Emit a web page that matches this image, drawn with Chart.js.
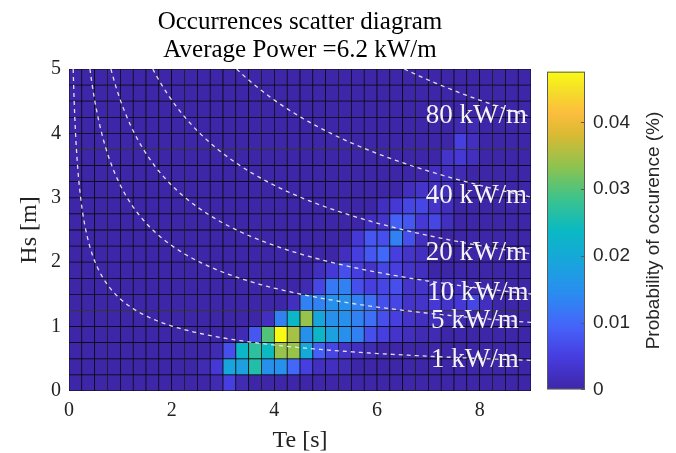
<!DOCTYPE html>
<html>
<head>
<meta charset="utf-8">
<script src="https://cdn.jsdelivr.net/npm/chart.js@4.4.1/dist/chart.umd.min.js"></script>
<style>
  html, body { margin: 0; padding: 0; background: #fff; }
  #wrap { width: 676px; height: 453px; }
</style>
</head>
<body>
<div id="wrap"><canvas id="scatterChart" width="676" height="453"></canvas></div>
<script>
// Te bins (centres, s) and Hs bins (lower edges, m)
const teBins = [0.125, 0.375, 0.625, 0.875, 1.125, 1.375, 1.625, 1.875, 2.125, 2.375, 2.625, 2.875,
                3.125, 3.375, 3.625, 3.875, 4.125, 4.375, 4.625, 4.875, 5.125, 5.375, 5.625, 5.875,
                6.125, 6.375, 6.625, 6.875, 7.125, 7.375, 7.625, 7.875, 8.125, 8.375, 8.625, 8.875];
const hsBins = [0, 0.25, 0.5, 0.75, 1, 1.25, 1.5, 1.75, 2, 2.25, 2.5, 2.75, 3, 3.25, 3.5, 3.75, 4, 4.25, 4.5, 4.75];
const hsStep = 0.25;

const teTicks = [0, 2, 4, 6, 8];
const hsTicks = [0, 1, 2, 3, 4, 5];
const probTicks = [0, 0.01, 0.02, 0.03, 0.04];
const probMax = 0.0476;

// probability of occurrence (%), one row per Hs bin, bottom row first
const prob = [
  [0,0,0,0,0,0, 0,0,0,0,0,0.001, 0.005,0.001,0,0,0,0, 0,0,0,0,0,0, 0,0,0,0,0,0, 0,0,0,0,0,0],
  [0,0,0,0,0,0, 0,0,0,0,0.001,0.004, 0.019,0.018,0.026,0.015,0.015,0.010, 0.005,0.002,0.002,0.001,0,0, 0,0,0,0,0,0, 0,0,0,0,0,0],
  [0,0,0,0,0,0, 0,0,0,0,0,0.001, 0.007,0.023,0.027,0.024,0.034,0.034, 0.020,0.009,0.006,0.003,0.002,0.001, 0,0,0,0,0,0, 0,0,0,0,0,0],
  [0,0,0,0,0,0, 0,0,0,0,0,0, 0,0.001,0.008,0.030,0.0476,0.035, 0.015,0.023,0.018,0.015,0.013,0.007, 0.005,0.003,0.002,0.001,0.001,0, 0,0,0,0,0,0],
  [0,0,0,0,0,0, 0,0,0,0,0,0, 0,0,0,0.002,0.013,0.023, 0.034,0.019,0.015,0.015,0.013,0.011, 0.007,0.005,0.003,0.002,0.002,0.001, 0.001,0,0,0,0,0],
  [0,0,0,0,0,0, 0,0,0,0,0,0, 0,0,0,0,0,0.002, 0.013,0.013,0.015,0.015,0.013,0.011, 0.007,0.006,0.003,0.003,0.004,0.003, 0.004,0.006,0.002,0,0,0],
  [0,0,0,0,0,0, 0,0,0,0,0,0, 0,0,0,0,0,0, 0.001,0.006,0.012,0.013,0.007,0.005, 0.006,0.007,0.003,0.003,0.002,0.002, 0.002,0,0,0,0,0],
  [0,0,0,0,0,0, 0,0,0,0,0,0, 0,0,0,0,0,0, 0,0.002,0.004,0.007,0.005,0.003, 0.006,0.005,0.003,0.002,0,0, 0,0,0,0,0,0],
  [0,0,0,0,0,0, 0,0,0,0,0,0, 0,0,0,0,0,0, 0,0,0,0.002,0.005,0.008, 0.010,0.005,0.003,0.002,0,0, 0,0,0,0,0,0],
  [0,0,0,0,0,0, 0,0,0,0,0,0, 0,0,0,0,0,0, 0,0,0,0,0.004,0.008, 0.007,0.013,0.007,0.002,0,0, 0,0,0,0,0,0],
  [0,0,0,0,0,0, 0,0,0,0,0,0, 0,0,0,0,0,0, 0,0,0,0,0,0.002, 0.003,0.009,0.008,0.004,0.006,0.002, 0,0,0,0,0,0],
  [0,0,0,0,0,0, 0,0,0,0,0,0, 0,0,0,0,0,0, 0,0,0,0,0,0, 0.002,0.004,0.006,0.006,0.003,0.002, 0,0,0,0,0,0],
  [0,0,0,0,0,0, 0,0,0,0,0,0, 0,0,0,0,0,0, 0,0,0,0,0,0, 0,0,0.002,0.003,0.002,0.002, 0,0,0,0,0,0],
  [0,0,0,0,0,0, 0,0,0,0,0,0, 0,0,0,0,0,0, 0,0,0,0,0,0, 0,0,0,0,0.002,0.002, 0.001,0,0,0,0,0],
  [0,0,0,0,0,0, 0,0,0,0,0,0, 0,0,0,0,0,0, 0,0,0,0,0,0, 0,0,0,0,0,0.003, 0.004,0.002,0,0,0,0],
  [0,0,0,0,0,0, 0,0,0,0,0,0, 0,0,0,0,0,0, 0,0,0,0,0,0, 0,0,0,0,0,0, 0.005,0.002,0,0,0,0],
  [0,0,0,0,0,0, 0,0,0,0,0,0, 0,0,0,0,0,0, 0,0,0,0,0,0, 0,0,0,0,0,0, 0.001,0.001,0,0,0,0],
  [0,0,0,0,0,0, 0,0,0,0,0,0, 0,0,0,0,0,0, 0,0,0,0,0,0, 0,0,0,0,0,0, 0,0,0,0,0,0],
  [0,0,0,0,0,0, 0,0,0,0,0,0, 0,0,0,0,0,0, 0,0,0,0,0,0, 0,0,0,0,0,0, 0,0,0,0,0,0],
  [0,0,0,0,0,0, 0,0,0,0,0,0, 0,0,0,0,0,0, 0,0,0,0,0,0, 0,0,0,0,0,0, 0,0,0,0,0,0]
];

// iso-power lines (kW/m) and where their labels sit
const powerLevels = [1, 5, 10, 20, 40, 80];
const powerLabelTe = [7.05, 7.05, 6.98, 6.95, 6.95, 6.95];
const powerLabelHs = [0.377, 0.974, 1.413, 2.034, 2.915, 4.157];
const averagePower = 6.2;
const powerCoef = 0.49; // rho*g^2/(64*pi), kW per m^3 s

// parula-like colour map
const parulaStops = [
  [0.00, [62, 38, 168]],
  [0.10, [71, 60, 222]],
  [0.20, [69, 100, 250]],
  [0.30, [42, 140, 240]],
  [0.40, [24, 165, 220]],
  [0.50, [10, 185, 195]],
  [0.60, [60, 195, 140]],
  [0.70, [140, 195, 80]],
  [0.80, [217, 186, 51]],
  [0.87, [252, 189, 61]],
  [0.94, [245, 222, 40]],
  [1.00, [249, 251, 21]]
];

function parula(t) {
  t = Math.max(0, Math.min(1, t));
  for (let k = 1; k < parulaStops.length; k++) {
    const [t1, c1] = parulaStops[k];
    if (t <= t1) {
      const [t0, c0] = parulaStops[k - 1];
      const f = (t - t0) / (t1 - t0);
      return 'rgb(' + c0.map((v, n) => Math.round(v + (c1[n] - v) * f)).join(',') + ')';
    }
  }
  return 'rgb(249,251,21)';
}

function isoPowerLine(p) {
  const pts = [];
  const hsTop = hsTicks[hsTicks.length - 1];
  for (let te = p / (powerCoef * hsTop * hsTop); te <= 9.02; te *= 1.015) {
    pts.push({ x: te, y: Math.sqrt(p / (powerCoef * te)) });
  }
  pts.push({ x: 9, y: Math.sqrt(p / (powerCoef * 9)) });
  return pts;
}

const serif = '"Liberation Serif", "Times New Roman", serif';
const sans = '"Liberation Sans", Arial, sans-serif';

// cells: one floating-bar dataset per Hs row
const cellSets = hsBins.map((hs, j) => ({
  type: 'bar',
  data: teBins.map(te => ({ x: te, y: [hs, hs + hsStep] })),
  backgroundColor: prob[j].map(v => parula(v / probMax)),
  borderColor: '#0a0a0a',
  borderWidth: 0.75,
  borderSkipped: false,
  barPercentage: 1,
  categoryPercentage: 1,
  grouped: false,
  order: 2
}));

const lineSets = powerLevels.map(p => ({
  type: 'line',
  data: isoPowerLine(p),
  borderColor: 'rgba(235,235,235,0.95)',
  borderWidth: 1.3,
  borderDash: [4, 4],
  pointRadius: 0,
  fill: false,
  tension: 0,
  order: 1
}));

const cbMin = -0.00025, cbMax = 0.048;

const extrasPlugin = {
  id: 'extras',
  afterDatasetsDraw(chart) {
    const { ctx, chartArea: a, scales: { x, y } } = chart;
    ctx.save();
    ctx.beginPath();
    ctx.rect(a.left, a.top, a.right - a.left, a.bottom - a.top);
    ctx.clip();
    ctx.fillStyle = '#f4f4f4';
    ctx.font = '27px ' + serif;
    ctx.textAlign = 'left';
    ctx.textBaseline = 'alphabetic';
    powerLevels.forEach((p, k) => {
      ctx.fillText(p + ' kW/m', x.getPixelForValue(powerLabelTe[k]), y.getPixelForValue(powerLabelHs[k]));
    });
    ctx.restore();
  },
  afterDraw(chart) {
    const { ctx, scales: { cb } } = chart;
    const top = cb.getPixelForValue(probMax);
    const bottom = cb.getPixelForValue(0);
    const left = cb.left + 16, w = 38;
    const g = ctx.createLinearGradient(0, bottom, 0, top);
    parulaStops.forEach(([t, c]) => g.addColorStop(t, 'rgb(' + c.join(',') + ')'));
    ctx.save();
    ctx.fillStyle = g;
    ctx.fillRect(left, top, w, bottom - top);
    ctx.strokeStyle = '#5a5a5a';
    ctx.lineWidth = 1;
    ctx.strokeRect(left + 0.5, top + 0.5, w - 1, bottom - top - 1);
    ctx.beginPath();
    probTicks.forEach(v => {
      const py = Math.round(cb.getPixelForValue(v)) + 0.5;
      ctx.moveTo(left + w - 4, py);
      ctx.lineTo(left + w, py);
    });
    ctx.stroke();
    // colour bar label
    ctx.translate(cb.right - 22, (top + bottom) / 2);
    ctx.rotate(-Math.PI / 2);
    ctx.fillStyle = '#262626';
    ctx.font = '19px ' + sans;
    ctx.textAlign = 'center';
    ctx.textBaseline = 'middle';
    ctx.fillText('Probability of occurence (%)', 0, 0);
    ctx.restore();
  }
};

const ctx = document.getElementById('scatterChart').getContext('2d');
const scatterChart = new Chart(ctx, {
  type: 'bar',
  data: { datasets: cellSets.concat(lineSets) },
  options: {
    responsive: false,
    devicePixelRatio: 1,
    animation: false,
    events: [],
    layout: { padding: 0 },
    plugins: {
      legend: { display: false },
      tooltip: { enabled: false },
      title: {
        display: true,
        fullSize: false,
        text: ['Occurrences scatter diagram', 'Average Power =' + averagePower + ' kW/m'],
        color: '#000',
        font: { family: serif, size: 25, weight: 'normal', lineHeight: 1.14 },
        padding: { top: 8, bottom: 4 }
      }
    },
    scales: {
      x: {
        type: 'linear',
        min: 0,
        max: 9,
        offset: false,
        grid: { display: false, drawTicks: false, offset: false },
        border: { display: false },
        afterBuildTicks: s => { s.ticks = teTicks.map(v => ({ value: v })); },
        afterFit: s => { s.height = 62; },
        ticks: { color: '#222', padding: 8, font: { family: serif, size: 20 } },
        title: {
          display: true, text: 'Te [s]', color: '#222',
          font: { family: serif, size: 24, lineHeight: 1 }, padding: 0
        }
      },
      y: {
        type: 'linear',
        position: 'left',
        min: 0,
        max: 5,
        grid: { display: false, drawTicks: false },
        border: { display: false },
        afterBuildTicks: s => { s.ticks = hsTicks.map(v => ({ value: v })); },
        afterFit: s => { s.width = 69; },
        ticks: { color: '#222', padding: 8, font: { family: serif, size: 20 } },
        title: {
          display: true, text: 'Hs [m]', color: '#222',
          font: { family: serif, size: 24, lineHeight: 1 }, padding: { top: 18, bottom: 0 }
        }
      },
      cb: {
        type: 'linear',
        position: 'right',
        min: cbMin,
        max: cbMax,
        grid: { display: false, drawTicks: false },
        border: { display: false },
        afterBuildTicks: s => { s.ticks = probTicks.map(v => ({ value: v })); },
        afterFit: s => { s.width = 145; s.paddingTop = 0; s.paddingBottom = 0; },
        ticks: {
          color: '#262626', padding: 62, font: { family: sans, size: 19 },
          callback: v => (v === 0 ? '0' : v.toFixed(2))
        }
      }
    }
  },
  plugins: [extrasPlugin]
});
</script>
</body>
</html>
